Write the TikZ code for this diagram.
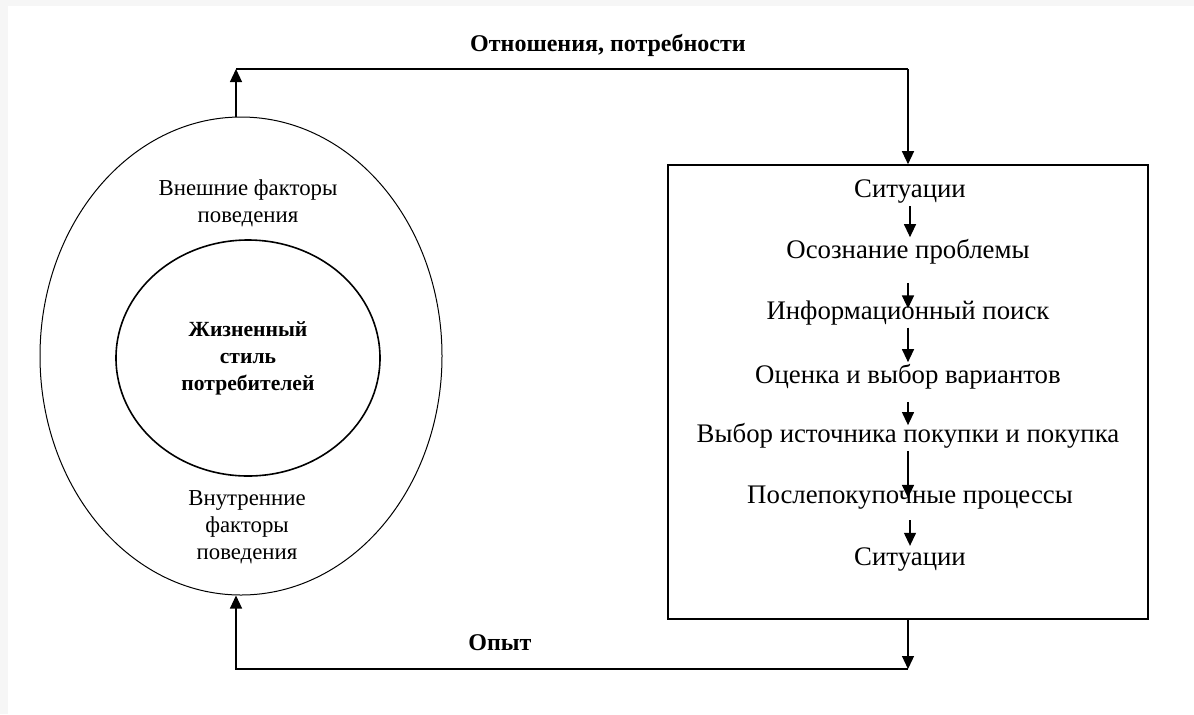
\documentclass[tikz,border=0pt]{standalone}
\usepackage{fontspec}
\setmainfont{Liberation Serif}
\usetikzlibrary{arrows.meta, shapes.geometric, positioning}

\begin{document}
\begin{tikzpicture}[x=0.5pt, y=-0.5pt]
      \tikzset{edge/.style = {->, > = {Triangle[length=6.5pt,width=6pt]}, line width=0.6pt}}
      \tikzset{ring/.style = {shape=ellipse, draw, line width=0.5pt}}
      \tikzset{step text/.style = {font=\fontsize{13.4}{16}\selectfont, inner sep=1pt}}
      \tikzset{factor/.style = {font=\fontsize{11.4}{13.5}\selectfont, align=center}}
      \tikzset{loop label/.style = {font=\bfseries\fontsize{12}{14}\selectfont}}
      \useasboundingbox (0,0) rectangle (1194,714);
      \fill[gray!7] (0,0) rectangle (1194,714);
      \fill[white] (8,6) rectangle (1194,714);

      \node[ring, minimum width=201pt, minimum height=239pt] (outer) at (241, 356) {};
      \node[ring, line width=0.8pt, minimum width=132pt, minimum height=118pt] (inner) at (248, 358) {};
      \node[factor, font=\bfseries\fontsize{10.8}{13.5}\selectfont] (life) at (248, 358) {Жизненный\\стиль\\потребителей};
      \node[factor] (outfac) at (248, 203) {Внешние факторы\\поведения};
      \node[factor] (infac) at (247, 527) {Внутренние\\факторы\\поведения};

      \node[draw, line width=0.8pt, minimum width=240pt, minimum height=227pt] (box) at (908, 392) {};
      \node[step text] (s1) at (910, 192) {Ситуации};
      \node[step text] (s2) at (908, 252) {Осознание проблемы};
      \node[step text] (s3) at (908, 313) {Информационный поиск};
      \node[step text] (s4) at (908, 377) {Оценка и выбор вариантов};
      \node[step text] (s5) at (908, 436) {Выбор источника покупки и покупка};
      \node[step text] (s6) at (910, 498) {Послепокупочные процессы};
      \node[step text] (s7) at (910, 560) {Ситуации};

      \coordinate (tl) at (236, 69);
      \coordinate (tr) at (908, 69);
      \coordinate (br) at (908, 669);
      \coordinate (bl) at (236, 669);
      \node[loop label] (rel) at (608, 45) {Отношения, потребности};
      \node[loop label] (exp) at (500, 643) {Опыт};

      \draw[edge] (outer.north -| tl) -- (tl);
      \draw[line width=0.6pt] (tl) -- (tr);
      \draw[edge] (tr) -- (tr |- box.north);
      \draw[edge] (tr |- box.south) -- (br);
      \draw[edge] (br) -- (bl) -- (outer.south -| bl);

      \draw[edge] (s1 |- s1.south) -- (s1 |- s2.north);
      \draw[edge, shorten <=8pt, shorten >=-5pt] (s2.south) -- (s2 |- s3.north);
      \draw[edge] (s3.south) -- (s3 |- s4.north);
      \draw[edge, shorten <=5pt, shorten >=-2pt] (s4.south) -- (s4 |- s5.north);
      \draw[edge, shorten >=-7pt] (s5.south) -- (s5 |- s6.north);
      \draw[edge, shorten <=4pt] (s6 |- s6.south) -- (s6 |- s7.north);
    \end{tikzpicture}
\end{document}
